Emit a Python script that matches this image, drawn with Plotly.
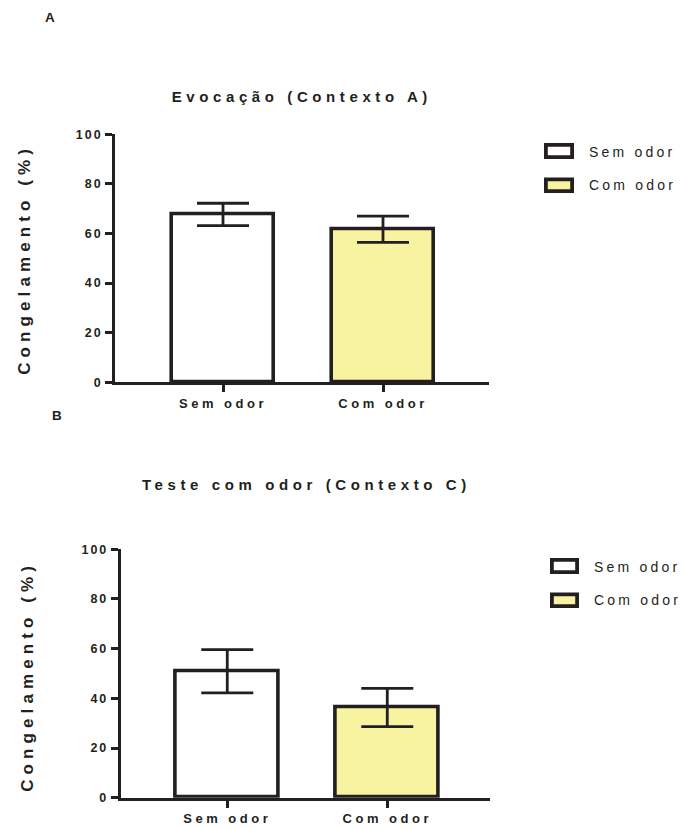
import plotly.graph_objects as go

W, H = 683, 828

# Data: freezing (%) mean and SEM per group
categories = ["Sem odor", "Com odor"]
recall_mean = [67.7, 61.7]        # Evocação (Contexto A)
recall_sem = [4.5, 5.3]
odor_test_mean = [50.9, 36.3]     # Teste com odor (Contexto C)
odor_test_sem = [8.7, 7.7]
y_ticks = [0, 20, 40, 60, 80, 100]

titles = ["Evocação (Contexto A)", "Teste com odor (Contexto C)"]
panel_letters = ["A", "B"]
y_title = "Congelamento (%)"

bar_fills = ["#FFFFFF", "#F8F3A0"]
ink = "#231F20"
FONT = "Liberation Sans, Arial, Helvetica, sans-serif"


def px(x):
    return x / W


def py(y):
    return 1 - y / H


panels = [
    dict(mean=recall_mean, err=recall_sem, xa="x", ya="y",
         xdom=(115, 489), ydom=(382.3, 134.3), xr=(-0.675, 1.6625),
         title_xy=(302, 97), letter_xy=(50, 18), ytitle_xy=(24, 260),
         leg_box_x=(544, 574), leg_box_y=[(143, 159), (177.5, 193)],
         leg_text_x=587, leg_text_y=[152, 185]),
    dict(mean=odor_test_mean, err=odor_test_sem, xa="x2", ya="y2",
         xdom=(120.7, 490), ydom=(797.7, 549.3), xr=(-0.666, 1.642),
         title_xy=(306, 484), letter_xy=(57, 415), ytitle_xy=(27, 677),
         leg_box_x=(550, 579), leg_box_y=[(558, 574), (592.5, 608)],
         leg_text_x=592, leg_text_y=[567, 600]),
]

fig = go.Figure()
layout_axes = {}
annotations = []
shapes = []

for i, p in enumerate(panels):
    fig.add_trace(go.Bar(
        x=categories, y=p["mean"], xaxis=p["xa"], yaxis=p["ya"],
        width=0.64,
        marker=dict(color=bar_fills, line=dict(color=ink, width=3.6)),
        error_y=dict(type="data", array=p["err"], visible=True,
                     color=ink, thickness=2.8, width=26),
        showlegend=False, hoverinfo="skip",
    ))
    suffix = "" if i == 0 else str(i + 1)
    layout_axes["xaxis" + suffix] = dict(
        domain=[px(p["xdom"][0]), px(p["xdom"][1])], range=list(p["xr"]),
        anchor=p["ya"], showline=True, linewidth=2.8, linecolor=ink,
        ticks="outside", ticklen=7, tickwidth=2.6, tickcolor=ink,
        tickfont=dict(family=FONT, size=13, color=ink, weight="bold"),
        showgrid=False, zeroline=False, fixedrange=True, automargin=False,
    )
    layout_axes["yaxis" + suffix] = dict(
        domain=[py(p["ydom"][0]), py(p["ydom"][1])], range=[0, 100],
        anchor=p["xa"], tickvals=y_ticks, showline=True, linewidth=2.8,
        linecolor=ink, ticks="outside", ticklen=7, tickwidth=2.6,
        tickcolor=ink,
        tickfont=dict(family=FONT, size=12.5, color=ink, weight="bold"),
        showgrid=False, zeroline=False, fixedrange=True, automargin=False,
    )
    # panel title
    annotations.append(dict(
        text=titles[i], x=px(p["title_xy"][0]), y=py(p["title_xy"][1]),
        xref="paper", yref="paper", xanchor="center", yanchor="middle",
        showarrow=False,
        font=dict(family=FONT, size=15, color=ink, weight="bold"),
    ))
    # panel letter
    annotations.append(dict(
        text=panel_letters[i], x=px(p["letter_xy"][0]), y=py(p["letter_xy"][1]),
        xref="paper", yref="paper", xanchor="center", yanchor="middle",
        showarrow=False,
        font=dict(family=FONT, size=13.5, color=ink, weight="bold"),
    ))
    # y-axis title
    annotations.append(dict(
        text=y_title, x=px(p["ytitle_xy"][0]), y=py(p["ytitle_xy"][1]),
        xref="paper", yref="paper", xanchor="center", yanchor="middle",
        textangle=-90, showarrow=False,
        font=dict(family=FONT, size=17, color=ink, weight="bold"),
    ))
    # legend swatches and labels
    for k, cat in enumerate(categories):
        x0, x1 = p["leg_box_x"]
        y0, y1 = p["leg_box_y"][k]
        lw = 3.8
        shapes.append(dict(
            type="rect", xref="paper", yref="paper",
            x0=px(x0 + lw / 2), x1=px(x1 - lw / 2),
            y0=py(y1 - lw / 2), y1=py(y0 + lw / 2),
            fillcolor=bar_fills[k], line=dict(color=ink, width=lw),
        ))
        annotations.append(dict(
            text=cat, x=px(p["leg_text_x"]), y=py(p["leg_text_y"][k]),
            xref="paper", yref="paper", xanchor="left", yanchor="middle",
            align="left", showarrow=False,
            font=dict(family=FONT, size=14, color=ink),
        ))

fig.update_layout(
    width=W, height=H, margin=dict(l=0, r=0, t=0, b=0, autoexpand=False),
    paper_bgcolor="white", plot_bgcolor="white",
    showlegend=False, bargap=0,
    annotations=annotations, shapes=shapes,
    **layout_axes,
)

# Page without body margin; widen character spacing of the labels,
# keyed on font size
spacing_js = """
document.body.style.margin = '0';
document.body.style.overflow = 'hidden';
var gd = document.getElementById('{plot_id}');
var spacing = {'12.5px': '2px', '13px': '3.5px', '14px': '3.2px',
               '15px': '4.6px', '17px': '5.1px'};
gd.querySelectorAll('text').forEach(function (t) {
    var fs = t.style.fontSize;
    if (spacing[fs]) { t.style.letterSpacing = spacing[fs]; }
});
"""

fig.write_html("out.html", config={"displayModeBar": False},
               post_script=spacing_js)
